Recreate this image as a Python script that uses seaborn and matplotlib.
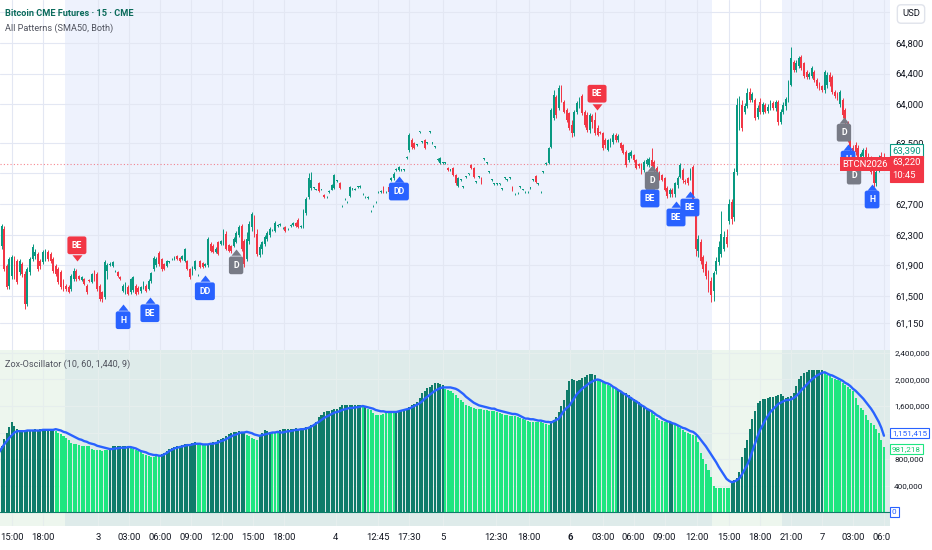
import numpy as np
import seaborn as sns
import matplotlib.pyplot as plt

# ---- 15 min bars (bar index 0..343) ----
opens = [
    62110, 62149, 62370, 61889, 61629, 61759, 61980, 61954, 61811, 61915,
    61785, 61395, 61811, 61980, 62019, 62045, 61954, 61941, 61980, 62071,
    62045, 61980, 61889, 61850, 61811, 61694, 61629, 61616, 61590, 61720,
    61824, 61759, 61707, 61720, 61629, 61707, 61681, 61811, 61785, 61629,
    61551, 61486, 61824, 61902, 61889, 61824, 61811, 61746, 61564, 61551,
    61616, 61551, 61577, 61629, 61603, 61564, 61616, 61629, 61590, 61694,
    61850, 61902, 62058, 61980, 61915, 61889, 61941, 61980, 61980, 62019,
    61993, 61980, 61954, 61954, 61850, 61785, 61850, 61772, 61954, 61928,
    61889, 61902, 62175, 62149, 62071, 62201, 62175, 62175, 62305, 62162,
    62149, 62149, 62201, 62292, 62409, 62214, 61980, 62214, 62396, 62526,
    62305, 62032, 62110, 62175, 62240, 62292, 62357, 62344, 62409, 62422,
    62383, 62396, 62370, 62409, 62422, 62448, 62487, 62396, 62396, 62578,
    62786, 62916, 62916, 62890, 62981, 62890, 62812, 62786, 62851, 62890,
    62916, 63007, 62981, 62669, 62760, 62721, 62799, 62903, 62890, 62929,
    62929, 62825, 62786, 62773, 62604, 62669, 62721, 62851, 62851, 62929,
    62851, 62929, 63020, 63046, 63150, 63150, 63150, 63150, 63306, 63410,
    63540, 63501, 63475, 63644, 63514, 63540, 63501, 63644, 63501, 63449,
    63280, 63241, 63241, 63241, 63176, 63150, 63176, 63085, 62942, 63020,
    62929, 63059, 63098, 63215, 63176, 62994, 63059, 63046, 63293, 63241,
    63124, 63020, 62968, 62968, 62968, 62903, 63046, 63020, 63046, 62929,
    62825, 62838, 62929, 62890, 62851, 62851, 62916, 63020, 63072, 62968,
    62851, 63124, 63228, 63241, 63449, 63826, 64099, 63956, 64216, 64034,
    63930, 63891, 63735, 63631, 63904, 63995, 64112, 63904, 63865, 63670,
    63852, 63800, 63696, 63644, 63631, 63540, 63410, 63475, 63514, 63605,
    63540, 63501, 63475, 63384, 63280, 63332, 63345, 63280, 63228, 63215,
    63150, 63228, 63215, 63280, 63254, 63176, 63124, 63085, 63046, 62916,
    62825, 62890, 62825, 62955, 63059, 63150, 63007, 63046, 63046, 63189,
    62656, 62084, 62201, 62006, 61915, 61811, 61694, 61564, 61824, 61941,
    62045, 62110, 62266, 62474, 62721, 62526, 63124, 63696, 63995, 63904,
    63982, 64164, 64060, 64060, 63839, 64034, 63904, 63995, 63917, 63956,
    64021, 63956, 64034, 63774, 63904, 63982, 64060, 64255, 64554, 64450,
    64502, 64619, 64541, 64424, 64359, 64372, 64424, 64320, 64268, 64242,
    64190, 64255, 64385, 64359, 64164, 64138, 64008, 64060, 63930, 63761,
    63566, 63436, 63475, 63436, 63306, 63332, 63410, 63332, 63306, 63215,
    62981, 63150, 63332, 63306,
]
highs = [
    62370, 62435, 62409, 61915, 62006, 62032, 62019, 61980, 61980, 61941,
    61824, 61876, 62006, 62175, 62110, 62071, 61980, 62097, 62110, 62097,
    62071, 62006, 61915, 61876, 61837, 61720, 61655, 61642, 61785, 61863,
    61850, 61772, 61759, 61733, 61655, 61720, 61798, 61837, 61811, 61655,
    61564, 61967, 61928, 61941, 61954, 61837, 61824, 61759, 61655, 61681,
    61642, 61733, 61759, 61655, 61629, 61629, 61694, 61655, 61720, 61811,
    62019, 62006, 62084, 61993, 61928, 61967, 61954, 61993, 62019, 62032,
    62006, 62032, 62123, 61967, 61863, 61889, 61967, 61785, 61967, 61941,
    61928, 62266, 62201, 62175, 62136, 62214, 62227, 62370, 62344, 62175,
    62162, 62266, 62344, 62422, 62435, 62240, 62331, 62474, 62591, 62552,
    62370, 62175, 62214, 62292, 62344, 62396, 62370, 62474, 62435, 62448,
    62396, 62409, 62383, 62435, 62461, 62461, 62513, 62422, 62630, 62786,
    63111, 63124, 62929, 62903, 62994, 62903, 62825, 62799, 62877, 62968,
    63098, 63020, 62994, 62682, 62773, 62734, 62942, 62916, 62916, 62942,
    62955, 62838, 62799, 62799, 62617, 62682, 62734, 62864, 62877, 62942,
    62864, 62942, 63059, 63124, 63176, 63202, 63163, 63163, 63332, 63631,
    63566, 63514, 63488, 63657, 63527, 63553, 63514, 63657, 63514, 63462,
    63306, 63319, 63254, 63254, 63189, 63163, 63189, 63098, 63059, 63033,
    62942, 63072, 63111, 63228, 63189, 63007, 63072, 63059, 63306, 63254,
    63137, 63033, 62981, 62981, 62981, 62916, 63059, 63033, 63059, 62942,
    62838, 62851, 62942, 62903, 62864, 62864, 62929, 63033, 63085, 62981,
    62864, 63137, 63254, 63449, 63956, 64190, 64125, 64255, 64255, 64060,
    63956, 63904, 63800, 63930, 64047, 64099, 64138, 63930, 63904, 63891,
    63878, 63904, 63735, 63657, 63644, 63566, 63553, 63566, 63631, 63631,
    63618, 63514, 63488, 63410, 63384, 63410, 63358, 63293, 63241, 63241,
    63280, 63306, 63319, 63436, 63280, 63202, 63137, 63098, 63059, 62942,
    62916, 62916, 62994, 63072, 63241, 63176, 63033, 63059, 63176, 63215,
    62682, 62292, 62240, 62032, 61954, 61837, 61746, 61824, 62006, 62214,
    62604, 62344, 62370, 62760, 62760, 63176, 64086, 64112, 64060, 64021,
    64216, 64216, 64164, 64086, 63995, 64086, 64034, 64021, 64008, 64060,
    64047, 64060, 64060, 63943, 64034, 64099, 64320, 64749, 64580, 64580,
    64632, 64645, 64554, 64450, 64424, 64502, 64450, 64346, 64294, 64255,
    64450, 64424, 64424, 64385, 64190, 64164, 64190, 64086, 63956, 63787,
    63592, 63475, 63514, 63475, 63384, 63436, 63449, 63371, 63332, 63254,
    63150, 63345, 63384, 63371,
]
lows = [
    62045, 62110, 61824, 61590, 61590, 61720, 61720, 61655, 61772, 61746,
    61330, 61369, 61772, 61954, 61980, 61824, 61850, 61915, 61954, 61954,
    61928, 61798, 61759, 61655, 61590, 61564, 61564, 61538, 61564, 61694,
    61694, 61707, 61694, 61642, 61525, 61681, 61668, 61694, 61564, 61434,
    61421, 61460, 61720, 61889, 61876, 61811, 61746, 61707, 61551, 61525,
    61512, 61525, 61551, 61512, 61525, 61538, 61590, 61551, 61577, 61668,
    61824, 61876, 61889, 61824, 61837, 61876, 61928, 61967, 61967, 61967,
    61941, 61967, 61941, 61837, 61720, 61772, 61837, 61759, 61863, 61863,
    61876, 61876, 62071, 62058, 62058, 62032, 62162, 62162, 62097, 62071,
    62058, 62136, 62188, 62266, 62084, 61876, 61954, 62175, 62344, 62266,
    62019, 62006, 62045, 62149, 62214, 62266, 62344, 62331, 62396, 62409,
    62370, 62331, 62357, 62396, 62409, 62396, 62383, 62383, 62383, 62552,
    62760, 62890, 62903, 62877, 62851, 62877, 62773, 62773, 62838, 62877,
    62903, 62994, 62903, 62656, 62747, 62708, 62786, 62890, 62877, 62916,
    62916, 62812, 62773, 62760, 62591, 62656, 62708, 62838, 62838, 62838,
    62838, 62838, 63007, 63020, 63137, 63137, 63137, 63137, 63293, 63384,
    63423, 63423, 63462, 63631, 63501, 63423, 63488, 63631, 63488, 63436,
    63267, 63228, 63228, 63228, 63137, 63137, 63072, 62955, 62929, 63007,
    62916, 63046, 63085, 63163, 63046, 62981, 63046, 62968, 63280, 63228,
    63111, 63007, 62955, 62955, 62955, 62890, 63033, 63007, 63033, 62864,
    62812, 62825, 62916, 62877, 62838, 62838, 62903, 63007, 62981, 62955,
    62838, 63111, 63215, 63228, 63436, 63800, 63826, 63930, 64034, 63891,
    63774, 63670, 63579, 63592, 63878, 63956, 63865, 63709, 63644, 63631,
    63696, 63605, 63592, 63618, 63410, 63436, 63397, 63449, 63488, 63514,
    63514, 63410, 63358, 63189, 63254, 63306, 63254, 63163, 63176, 63098,
    63124, 63202, 63189, 63176, 63124, 63046, 63020, 63007, 62864, 62773,
    62786, 62786, 62786, 62916, 63046, 62981, 62968, 62955, 63020, 62656,
    62019, 62006, 61915, 61811, 61720, 61551, 61421, 61434, 61785, 61902,
    62006, 62084, 62136, 62435, 62435, 62474, 63085, 63670, 63657, 63878,
    63956, 64034, 64034, 63800, 63813, 63878, 63878, 63891, 63891, 63930,
    63930, 63917, 63735, 63748, 63878, 63930, 64034, 64242, 64424, 64424,
    64476, 64450, 64346, 64333, 64333, 64346, 64294, 64216, 64190, 64164,
    64151, 64216, 64242, 64138, 64086, 64060, 63969, 63826, 63735, 63514,
    63384, 63306, 63345, 63280, 63280, 63306, 63280, 63228, 63098, 62929,
    62942, 63124, 63215, 63215,
]
closes = [
    62305, 62409, 61850, 61616, 61980, 62006, 61785, 61681, 61954, 61785,
    61395, 61850, 61980, 62136, 62071, 61850, 61889, 62071, 62071, 61980,
    61954, 61824, 61785, 61681, 61616, 61590, 61590, 61551, 61759, 61824,
    61720, 61720, 61746, 61655, 61551, 61694, 61785, 61720, 61590, 61460,
    61460, 61941, 61902, 61915, 61941, 61824, 61759, 61720, 61629, 61668,
    61525, 61720, 61746, 61525, 61551, 61616, 61681, 61564, 61694, 61798,
    61993, 61980, 61915, 61850, 61850, 61954, 61954, 61980, 62006, 61980,
    61954, 62019, 62110, 61850, 61746, 61876, 61954, 61772, 61876, 61876,
    61915, 62240, 62084, 62071, 62110, 62045, 62214, 62344, 62110, 62084,
    62084, 62240, 62318, 62396, 62110, 61915, 62240, 62435, 62565, 62305,
    62045, 62136, 62201, 62266, 62318, 62370, 62357, 62448, 62422, 62435,
    62383, 62344, 62370, 62422, 62448, 62409, 62396, 62409, 62604, 62760,
    63046, 63020, 62916, 62890, 62864, 62890, 62786, 62786, 62864, 62955,
    63085, 63007, 62916, 62669, 62760, 62721, 62929, 62903, 62903, 62929,
    62942, 62825, 62786, 62786, 62604, 62669, 62721, 62851, 62864, 62851,
    62851, 62851, 63046, 63098, 63163, 63189, 63150, 63150, 63319, 63605,
    63449, 63436, 63475, 63644, 63514, 63436, 63501, 63644, 63501, 63449,
    63293, 63306, 63241, 63241, 63150, 63150, 63085, 62981, 63046, 63020,
    62929, 63059, 63098, 63176, 63059, 62994, 63059, 62981, 63293, 63241,
    63124, 63020, 62968, 62968, 62968, 62903, 63046, 63020, 63046, 62877,
    62825, 62838, 62929, 62890, 62851, 62851, 62916, 63020, 62994, 62968,
    62851, 63124, 63241, 63436, 63930, 64125, 63865, 64216, 64060, 63904,
    63800, 63696, 63631, 63904, 64021, 64073, 63891, 63735, 63670, 63865,
    63774, 63631, 63605, 63631, 63436, 63475, 63540, 63553, 63605, 63540,
    63592, 63436, 63371, 63215, 63371, 63384, 63280, 63176, 63202, 63124,
    63254, 63280, 63293, 63202, 63150, 63059, 63046, 63020, 62890, 62799,
    62890, 62825, 62981, 63046, 63215, 63020, 62994, 62981, 63150, 62695,
    62110, 62240, 61954, 61850, 61759, 61590, 61512, 61798, 61954, 62136,
    62305, 62266, 62175, 62695, 62500, 63124, 63995, 64060, 63696, 63982,
    64151, 64060, 64138, 63826, 63956, 63904, 64008, 63904, 63969, 64021,
    63956, 64034, 63774, 63904, 63995, 64073, 64294, 64606, 64450, 64541,
    64606, 64476, 64372, 64359, 64398, 64476, 64320, 64242, 64216, 64190,
    64424, 64385, 64294, 64164, 64112, 64086, 64164, 63865, 63761, 63540,
    63410, 63319, 63384, 63306, 63358, 63410, 63306, 63254, 63124, 62981,
    63124, 63306, 63254, 63220,
]

# ---- Zox oscillator, in units of 10,000 ----
zox_hist_10k = [
    92, 100, 110, 120, 129, 136, 130, 126, 124, 124,
    123, 124, 124, 124, 125, 124, 125, 125, 125, 125,
    126, 125, 122, 119, 117, 114, 112, 108, 104, 103,
    102, 101, 100, 100, 100, 99, 95, 94, 93, 93,
    92, 93, 93, 96, 99, 100, 100, 99, 100, 99,
    99, 97, 95, 94, 92, 90, 88, 86, 85, 83,
    83, 84, 84, 87, 89, 92, 95, 97, 98, 99,
    100, 101, 102, 103, 103, 104, 105, 102, 101, 101,
    101, 103, 104, 105, 106, 108, 110, 112, 114, 117,
    119, 121, 121, 122, 121, 121, 116, 114, 111, 110,
    109, 116, 120, 124, 123, 121, 119, 119, 120, 124,
    125, 125, 126, 126, 126, 127, 126, 126, 127, 128,
    129, 131, 133, 136, 143, 147, 151, 153, 153, 154,
    155, 156, 159, 161, 161, 162, 161, 161, 162, 161,
    161, 159, 159, 156, 154, 150, 147, 146, 147, 148,
    149, 150, 150, 150, 152, 153, 154, 154, 156, 159,
    161, 163, 166, 172, 179, 183, 187, 189, 192, 194,
    194, 193, 192, 186, 184, 182, 179, 176, 172, 169,
    166, 162, 160, 158, 157, 156, 156, 155, 154, 154,
    153, 153, 152, 151, 150, 148, 146, 146, 145, 145,
    145, 144, 142, 141, 139, 138, 136, 136, 136, 136,
    136, 135, 133, 131, 137, 139, 143, 151, 160, 169,
    184, 197, 200, 199, 198, 199, 202, 204, 207, 209,
    208, 207, 199, 198, 196, 194, 192, 190, 188, 186,
    184, 182, 180, 179, 176, 173, 171, 168, 166, 163,
    160, 157, 154, 151, 147, 142, 139, 137, 136, 136,
    136, 135, 132, 130, 127, 124, 121, 119, 117, 116,
    115, 105, 89, 80, 73, 63, 53, 40, 37, 36,
    36, 36, 36, 37, 46, 48, 52, 61, 83, 96,
    109, 125, 140, 152, 164, 168, 170, 171, 172, 173,
    174, 175, 176, 178, 175, 172, 174, 175, 179, 190,
    200, 206, 210, 212, 214, 215, 215, 215, 215, 214,
    210, 207, 205, 202, 200, 199, 197, 195, 192, 189,
    186, 182, 172, 161, 157, 154, 147, 139, 135, 131,
    126, 120, 108, 98.1218,
]
zox_signal_10k = [
    90, 96, 102, 107, 112, 116, 120, 122, 122, 122,
    122, 123, 123, 123, 123, 123, 123, 124, 124, 124,
    124, 124, 125, 124, 123, 121, 120, 118, 116, 114,
    112, 110, 109, 107, 106, 104, 103, 102, 100, 99,
    98, 97, 96, 95, 95, 96, 96, 97, 97, 97,
    98, 98, 97, 96, 94, 92, 91, 90, 88, 87,
    86, 86, 85, 85, 87, 89, 92, 94, 96, 97,
    98, 99, 100, 101, 101, 102, 103, 103, 103, 102,
    102, 102, 103, 103, 104, 105, 107, 108, 110, 112,
    114, 116, 117, 119, 120, 120, 121, 120, 119, 117,
    116, 115, 116, 117, 118, 119, 120, 120, 121, 120,
    120, 121, 122, 122, 123, 124, 124, 125, 125, 126,
    127, 129, 131, 134, 136, 139, 142, 144, 146, 148,
    150, 151, 152, 154, 155, 156, 157, 157, 158, 158,
    159, 160, 159, 158, 157, 156, 154, 153, 152, 152,
    151, 151, 151, 151, 151, 152, 153, 154, 155, 156,
    158, 160, 162, 164, 167, 171, 174, 177, 180, 183,
    185, 187, 188, 188, 188, 188, 187, 186, 184, 181,
    178, 174, 171, 168, 165, 163, 161, 160, 159, 158,
    157, 156, 156, 154, 153, 152, 151, 150, 149, 148,
    148, 147, 145, 143, 141, 141, 140, 140, 139, 138,
    138, 137, 136, 136, 135, 137, 139, 141, 147, 153,
    157, 160, 166, 172, 178, 182, 186, 189, 192, 195,
    197, 199, 200, 199, 197, 195, 194, 192, 189, 187,
    184, 182, 179, 177, 174, 172, 169, 167, 164, 161,
    159, 156, 154, 152, 149, 146, 144, 141, 139, 137,
    136, 134, 133, 131, 129, 127, 126, 124, 122, 121,
    118, 114, 109, 104, 99, 93, 87, 81, 75, 68,
    62, 56, 50, 47, 45, 46, 48, 51, 57, 64,
    71, 80, 92, 103, 114, 124, 131, 139, 145, 151,
    155, 159, 163, 165, 167, 169, 169, 170, 172, 175,
    179, 184, 188, 192, 196, 200, 203, 206, 208, 210,
    211, 209, 207, 206, 204, 202, 200, 198, 195, 193,
    190, 186, 183, 179, 175, 171, 166, 161, 156, 150,
    143, 136, 127, 115.1415,
]

assert len(opens) == len(highs) == len(lows) == len(closes) == 344
assert len(zox_hist_10k) == len(zox_signal_10k) == 344

# x axis (bar index of each label)
time_tick_pos = [5, 17, 38.5, 50.5, 62.5, 74.5, 86.5, 98.5, 110.5, 130.5, 147, 159,
                 172, 192.5, 205.5, 221.5, 234, 246, 258, 270.5, 283, 295, 307, 319,
                 331, 343]
time_tick_labels = ['15:00', '18:00', '3', '03:00', '06:00', '09:00', '12:00', '15:00',
                    '18:00', '4', '12:45', '17:30', '5', '12:30', '18:00', '6', '03:00',
                    '06:00', '09:00', '12:00', '15:00', '18:00', '21:00', '7', '03:00',
                    '06:00']

price_ticks = [64800, 64400, 64000, 63500, 62700, 62300, 61900, 61500, 61150]
price_grid_only = [65200, 63100]
zox_ticks = [400000, 800000, 1600000, 2000000, 2400000]
zox_grid_only = [1200000]

# regular trading sessions (bar index ranges)
sessions = [(25.5, 276.5), (303.5, 346)]

# pattern labels: bar index, anchor price, text, kind
pattern_idx = [30.2, 48.1, 58.5, 79.8, 91.9, 155, 231.8, 252.3, 253.1, 262.4, 267.8,
               327.5, 329.1, 331.4, 338.4]
pattern_price = [61954, 61395, 61486, 61772, 62110, 63072, 63930, 62981, 63215, 62734,
                 62864, 63839, 63488, 63280, 62968]
pattern_text = ['BE', 'H', 'BE', 'DD', 'D', 'DD', 'BE', 'BE', 'D', 'BE', 'BE', 'D', 'H',
                'D', 'H']
pattern_kind = ['bear', 'bull', 'bull', 'bull', 'neutral', 'bull', 'bear', 'bull',
                'neutral', 'bull', 'bull', 'neutral', 'bull', 'neutral', 'bull']

last_price = 63220
ref_price = 63390
countdown = '10:45'
symbol = 'BTCN2026'

GREEN = '#089981'
RED = '#f23645'
BLUE = '#2962ff'
GREY = '#787b86'
HIST_DARK = '#0f7c6a'
HIST_BRIGHT = '#1ee680'
TEXT = '#131722'
PRICE_FS = 6.8
OSC_FS = 5.9
TITLE_FS = 6.6

sns.set_theme(style='white')
plt.rcParams['font.family'] = ['Liberation Sans Narrow', 'Roboto', 'DejaVu Sans']

W, H = 932, 550
fig = plt.figure(figsize=(W / 100, H / 100), dpi=100)
fig.patch.set_facecolor('white')
ax = fig.add_axes([0, 200 / H, 890 / W, 350 / H])
ax2 = fig.add_axes([0, 24 / H, 890 / W, 176 / H])

idx = np.arange(len(closes))
o = np.array(opens, float)
hi = np.array(highs, float)
lo = np.array(lows, float)
c = np.array(closes, float)
xlim = (0.39, 345.35)

# ---------------- price pane ----------------
ax.set_facecolor('white')
for a, b in sessions:
    ax.axvspan(a, b, color='#eef2fd', lw=0, zorder=0)

up = c >= o
cols = np.where(up, GREEN, RED)
ax.vlines(idx, lo, hi, colors=cols, lw=0.7, zorder=2)
body_h = np.maximum(np.abs(c - o), 9)
ax.bar(idx, body_h, bottom=np.minimum(o, c), width=0.7, color=cols, lw=0, zorder=2)

ax.axhline(last_price, color=RED, lw=0.8, ls=(0, (1, 2)), alpha=0.6, zorder=1)

ax.set_xlim(*xlim)
ax.set_ylim(60798, 65360)
ax.set_yticks(price_ticks)
ax.set_yticklabels([f'{v:,}' for v in price_ticks])
ax.set_yticks(price_grid_only, minor=True)
ax.yaxis.tick_right()
ax.set_xticks(time_tick_pos)
ax.tick_params(axis='x', labelbottom=False, length=0)
ax.tick_params(axis='y', which='both', length=0, pad=4, labelsize=PRICE_FS, labelcolor=TEXT)
ax.set_axisbelow(True)
ax.grid(True, which='both', color='#e3e7f3', lw=0.8)
for s in ax.spines.values():
    s.set_visible(False)

# pattern labels
kind_color = {'bull': BLUE, 'bear': RED, 'neutral': GREY}
for i, p, t, k in zip(pattern_idx, pattern_price, pattern_text, pattern_kind):
    col = kind_color[k]
    if k == 'bear':
        tip = [(0, 0), (-0.8, 1), (0.8, 1)]
        dy = 16
    else:
        tip = [(0, 0), (-0.8, -1), (0.8, -1)]
        dy = -16
    ax.plot(i, p, marker=tip, ms=9, color=col, mew=0, zorder=5)
    ax.annotate(t, xy=(i, p), xytext=(0, dy), textcoords='offset pixels',
                ha='center', va='center', fontsize=6.3, color='white', fontweight='bold',
                bbox=dict(boxstyle='round,pad=0.5,rounding_size=0.25', fc=col, ec='none'),
                zorder=6)


def scale_tag(axis, y, text, fc, ec, tc, fs, dy=0, va='center', **kw):
    axis.annotate(text, xy=(1, y), xycoords=('axes fraction', 'data'),
                  xytext=(2, dy), textcoords='offset pixels', ha='left', va=va,
                  fontsize=fs, color=tc, annotation_clip=False, zorder=10,
                  bbox=dict(boxstyle='square,pad=0.25', fc=fc, ec=ec, lw=0.8), **kw)


# price scale tags
scale_tag(ax, ref_price, f'{ref_price:,}', 'white', GREEN, GREEN, PRICE_FS)
scale_tag(ax, last_price, f'{last_price:,}\n{countdown}', RED, RED, 'white', PRICE_FS,
          dy=6, va='top', linespacing=1.5)
ax.annotate(symbol, xy=(1, last_price), xycoords=('axes fraction', 'data'),
            xytext=(-2, 0), textcoords='offset pixels', ha='right', va='center',
            fontsize=PRICE_FS, color='white', annotation_clip=False, zorder=11,
            bbox=dict(boxstyle='square,pad=0.25', fc=RED, ec='none'))

# ---------------- oscillator pane ----------------
hist = np.array(zox_hist_10k) * 10000
sig = np.array(zox_signal_10k) * 10000
ax2.set_facecolor('#edf6ee')
for a, b in sessions:
    ax2.axvspan(a, b, color='#deebea', lw=0, zorder=0)
hcols = np.where(hist >= sig, HIST_DARK, HIST_BRIGHT)
ax2.bar(idx, hist, width=0.78, color=hcols, lw=0, zorder=2)
ax2.axhline(0, color=HIST_DARK, lw=0.8, zorder=2)
sns.lineplot(x=idx, y=sig, ax=ax2, color=BLUE, lw=1.7, zorder=3)

ax2.set_xlim(*xlim)
ax2.set_ylim(-211000, 2445000)
ax2.set_yticks(zox_ticks)
ax2.set_yticklabels([f'{v:,}' for v in zox_ticks])
ax2.set_yticks(zox_grid_only, minor=True)
ax2.yaxis.tick_right()
ax2.set_xticks(time_tick_pos)
ax2.set_xticklabels(time_tick_labels)
ax2.tick_params(axis='x', length=0, pad=5, labelsize=6.8, labelcolor=TEXT)
ax2.tick_params(axis='y', which='both', length=0, pad=3, labelsize=OSC_FS, labelcolor=TEXT)
for lab in ax2.get_xticklabels():
    if lab.get_text() == '6':
        lab.set_fontweight('bold')
ax2.set_axisbelow(True)
ax2.grid(True, which='both', color='#e6eeed', lw=0.8)
ax2.set_xlabel('')
ax2.set_ylabel('')
for s in ax2.spines.values():
    s.set_visible(False)

scale_tag(ax2, sig[-1], f'{sig[-1]:,.0f}', 'white', BLUE, BLUE, OSC_FS, dy=3)
scale_tag(ax2, hist[-1], f'{hist[-1]:,.0f}', 'white', HIST_BRIGHT, '#12c86a', OSC_FS, dy=-2)
scale_tag(ax2, 0, '0', 'white', BLUE, BLUE, OSC_FS)

# hide the part of the last time label that runs under the price scale
cover = fig.add_axes([890 / W, 0, 42 / W, 24 / H])
cover.set_facecolor('white')
cover.set_xticks([])
cover.set_yticks([])
for s in cover.spines.values():
    s.set_visible(False)
cover.set_zorder(5)

# titles
fig.text(5 / W, 1 - 13 / H, 'Bitcoin CME Futures · 15 · CME', fontsize=TITLE_FS,
         color='#0b6b5b', fontweight='bold', va='center')
fig.text(5 / W, 1 - 28 / H, 'All Patterns (SMA50, Both)', fontsize=TITLE_FS,
         color='#50535e', va='center')
fig.text(5 / W, 1 - 364 / H, 'Zox-Oscillator (10, 60, 1,440, 9)', fontsize=TITLE_FS,
         color='#50535e', va='center')
fig.text(911 / W, 1 - 14 / H, 'USD', fontsize=PRICE_FS, color=TEXT, ha='center',
         va='center',
         bbox=dict(boxstyle='round,pad=0.5,rounding_size=0.4', fc='white', ec='#e0e3eb'))

fig.savefig('out.png', dpi=100, facecolor='white')
